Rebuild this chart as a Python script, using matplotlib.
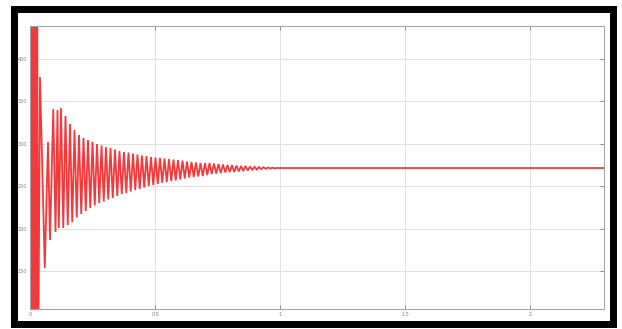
import numpy as np
import matplotlib
matplotlib.use("Agg")
import matplotlib.pyplot as plt
from matplotlib.patches import Rectangle

# ---------------- data ----------------
x_ticks = [0, 0.5, 1, 1.5, 2]
x_tick_labels = ["0", "0.5", "1", "1.5", "2"]
y_ticks = [150, 200, 250, 300, 350, 400]
y_tick_labels = ["150", "200", "250", "300", "350", "400"]

# start-up transient (time, value)
transient_t = [0.000, 0.004, 0.008, 0.012, 0.016, 0.020, 0.024, 0.028, 0.032,
               0.040, 0.059, 0.072, 0.080, 0.093, 0.102, 0.110, 0.115]
transient_v = [271.5, 700.0, -100.0, 680.0, -80.0, 650.0, -60.0, 620.0, 0.0,
               378.8, 153.6, 302.1, 186.6, 341.0, 196.0, 339.9, 200.8]

# oscillation peaks, one pair per cycle
cycle_first_time = 0.124
cycle_period = 0.018
upper_peak = [342.2, 332.8, 323.4, 316.3, 310.4, 306.9, 304.5, 302.2, 299.8, 298.0,
              296.3, 295.1, 293.3, 291.5, 290.4, 289.8, 288.6, 287.4, 286.2, 285.6,
              284.5, 283.9, 283.3, 282.7, 282.1, 281.5, 280.9, 280.3, 279.2, 278.6,
              278.0, 277.4, 277.4, 277.4, 276.8, 276.2, 275.6, 275.0, 275.0, 274.4,
              273.9, 273.9, 273.3, 272.9, 272.7, 272.4, 272.1, 271.9, 271.6]
lower_peak = [200.8, 204.3, 207.8, 213.1, 217.3, 220.8, 224.3, 227.3, 230.2, 232.0,
              234.4, 236.1, 238.5, 240.8, 242.0, 243.8, 245.6, 246.7, 248.5, 250.3,
              251.5, 252.6, 253.8, 255.0, 256.2, 256.8, 257.9, 259.1, 260.3, 260.9,
              261.5, 262.1, 263.2, 264.4, 265.0, 265.6, 266.2, 266.8, 266.8, 267.4,
              268.0, 268.6, 269.1, 269.7, 270.3, 270.6, 270.9, 271.1, 271.4]

steady_t = [1.0, 2.3]
steady_v = [271.5, 271.5]

# ---------------- build trace ----------------
t_list = list(transient_t)
v_list = list(transient_v)
for k, (u, l) in enumerate(zip(upper_peak, lower_peak)):
    tk = cycle_first_time + k * cycle_period
    t_list += [tk, tk + cycle_period / 2]
    v_list += [u, l]
t_list += steady_t
v_list += steady_v

# ---------------- figure ----------------
W, H = 622, 329
fig = plt.figure(figsize=(W / 100, H / 100), dpi=100)
fig.patch.set_facecolor("white")

ax = fig.add_axes([30 / W, (H - 309) / H, 574 / W, 283 / H])
ax.plot(t_list, v_list, color="#f23a3d", lw=1.3, solid_joinstyle="miter")

ax.set_xlim(0, 2.296)
ax.set_ylim(105.3, 438.9)
ax.set_xticks(x_ticks)
ax.set_xticklabels(x_tick_labels)
ax.set_yticks(y_ticks)
ax.set_yticklabels(y_tick_labels)
ax.grid(True, color="#e0e0e0", lw=0.7)
ax.set_axisbelow(True)
ax.tick_params(direction="in", length=3, width=0.6, colors="#808080",
               labelsize=3.5, top=True, right=True, pad=2)
for s in ax.spines.values():
    s.set_color("#a0a0a0")
    s.set_linewidth(0.7)

# thick black frame around the picture
frame = Rectangle((13.5 / W, (H - 323.5) / H), (613 - 13.5) / W, (323.5 - 8.5) / H,
                  transform=fig.transFigure, fill=False, edgecolor="black",
                  linewidth=5.0, zorder=10)
fig.patches.append(frame)

fig.savefig("out.png", dpi=100)
